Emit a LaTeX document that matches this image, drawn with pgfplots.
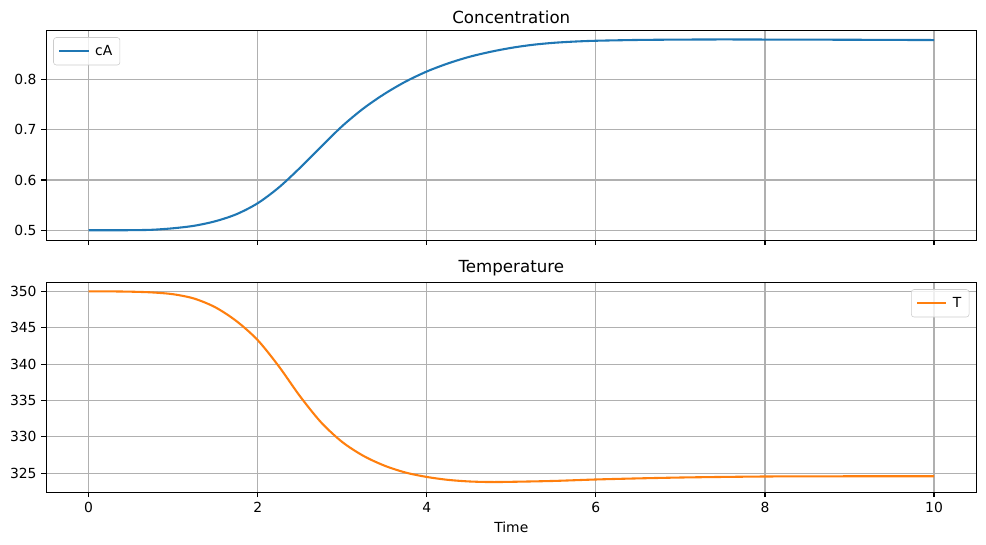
\documentclass[border=0pt]{standalone}
\usepackage{fontspec}
\setmainfont{DejaVu Sans}
\usepackage{pgfplots}
\usepackage{pgfplotstable}
\pgfplotsset{compat=1.18}
\definecolor{cAcol}{HTML}{1F77B4}
\definecolor{Tcol}{HTML}{FF7F0E}
\definecolor{gridc}{HTML}{B0B0B0}
\definecolor{legc}{HTML}{CCCCCC}

\pgfplotstableread{
t c
0.00 0.5000
0.25 0.5000
0.50 0.5002
0.75 0.5010
1.00 0.5040
1.25 0.5090
1.50 0.5180
1.75 0.5320
2.00 0.5537
2.25 0.5850
2.50 0.6240
2.75 0.6660
3.00 0.7070
3.25 0.7420
3.50 0.7710
3.75 0.7955
4.00 0.8155
4.25 0.8315
4.50 0.8445
4.75 0.8545
5.00 0.8625
5.25 0.8685
5.50 0.8725
5.75 0.8750
6.00 0.8766
6.50 0.8782
7.00 0.8789
7.50 0.8792
8.00 0.8790
8.50 0.8788
9.00 0.8786
9.50 0.8783
10.00 0.8780
}\cAdata

\pgfplotstableread{
t T
0.00 350.00
0.25 349.99
0.50 349.95
0.75 349.85
1.00 349.60
1.25 349.00
1.50 347.80
1.75 345.90
2.00 343.30
2.25 339.70
2.50 335.60
2.75 332.00
3.00 329.30
3.25 327.40
3.50 326.05
3.75 325.10
4.00 324.50
4.25 324.10
4.50 323.88
4.75 323.80
5.00 323.83
5.50 323.95
6.00 324.15
6.50 324.30
7.00 324.42
7.50 324.50
8.00 324.56
8.50 324.58
9.00 324.59
9.50 324.59
10.00 324.59
}\Tdata

\pgfplotsset{
  myax/.style={
    scale only axis,
    width=669.6pt, height=151.2pt,
    xmin=-0.5, xmax=10.5,
    xtick={0,2,4,6,8,10},
    tick align=outside,
    tick pos=left,
    major tick length=3.5pt,
    axis line style={line width=0.8pt},
    major tick style={line width=0.8pt, black},
    grid=major,
    major grid style={gridc, line width=0.8pt},
    ticklabel style={font=\fontsize{10}{12}\selectfont},
    /pgf/number format/assume math mode=true,
    title style={font=\fontsize{12}{14.4}\selectfont, yshift=-5pt},
    legend style={font=\fontsize{10}{12}\selectfont, draw=legc, rounded corners=2pt,
      fill=white, fill opacity=0.8, text opacity=1, inner xsep=3.5pt, inner ysep=3.5pt,
      row sep=0pt, /tikz/every odd column/.append style={column sep=2pt}},
    legend cell align=left,
    legend image code/.code={\draw[##1] (0pt,0pt) -- (21pt,0pt);},
  }
}

\begin{document}
\begin{tikzpicture}
\path[use as bounding box] (0,0) rectangle (709.92pt,392.4pt);

\begin{axis}[myax,
  at={(33.34pt,219.38pt)}, anchor=south west,
  ymin=0.4801, ymax=0.8974,
  ytick={0.5,0.6,0.7,0.8},
  yticklabels={0.5,0.6,0.7,0.8},
  xticklabels={},
  title={Concentration},
  legend style={at={(0,1)}, anchor=north west, xshift=5pt, yshift=-5pt},
]
\addplot[cAcol, line width=1.5pt, smooth] table[x=t, y=c] {\cAdata};
\addlegendentry{cA}
\end{axis}

\begin{axis}[myax,
  at={(33.34pt,37.94pt)}, anchor=south west,
  ymin=322.39, ymax=351.24,
  ytick={325,330,335,340,345,350},
  xlabel={Time},
  xlabel style={font=\fontsize{10}{12}\selectfont},
  title={Temperature},
  legend style={at={(1,1)}, anchor=north east, xshift=-5pt, yshift=-5pt},
]
\addplot[Tcol, line width=1.5pt, smooth] table[x=t, y=T] {\Tdata};
\addlegendentry{T}
\end{axis}
\end{tikzpicture}
\end{document}
